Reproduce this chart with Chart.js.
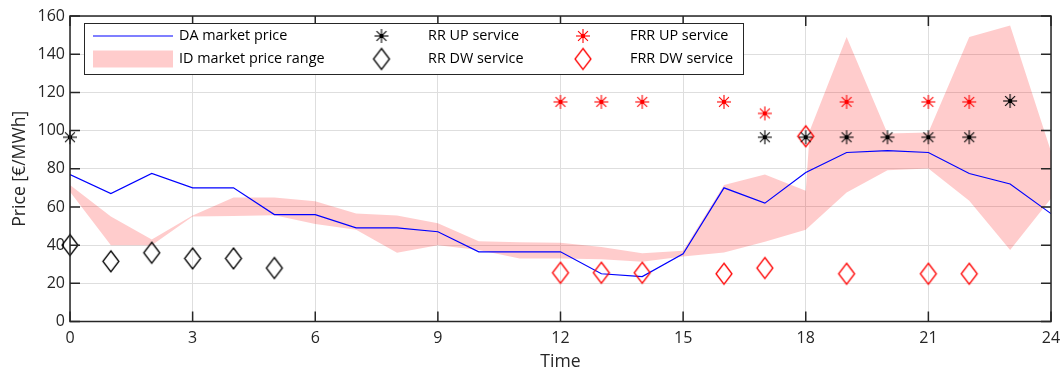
<!DOCTYPE html>
<html>
<head>
<meta charset="utf-8">
<script src="https://cdn.jsdelivr.net/npm/chart.js@4.4.1/dist/chart.umd.min.js"></script>
<style>
  html, body { margin: 0; padding: 0; background: #fff; }
  canvas { display: block; }
</style>
</head>
<body>
<canvas id="c" width="1062" height="371"></canvas>
<script>
// ---------------- DATA ----------------
const hours = [0,1,2,3,4,5,6,7,8,9,10,11,12,13,14,15,16,17,18,19,20,21,22,23,24];
const daPrice = [77,67,77.5,70,70,56,56,49,49,47,36.5,36.5,36.5,25,23.5,35.5,70,62,78,88.5,89.5,88.5,77.5,72,56.5];

const idTime  = [0,1,2,3,4,5,6,7,8,9,10,11,12,13,14,15,16,17,18,18.1,19,20,21,22,23,24];
const idUpper = [71.5,55,43,55.5,65,65,63,56.5,55.5,51.5,42,41.5,41.2,39,35.7,37,71.5,77,68.5,100,149,98.5,99,149,155,89];
const idLower = [68,40,40,55,55.2,55.7,51,48,36,40,37.5,33,33,32.6,31.3,34,36.2,41.8,48,50,67.5,79.2,80.1,63.2,37.4,64.4];

const rrUpTime  = [0,17,18,19,20,21,22,23];
const rrUpVal   = [96.5,96.5,96.5,96.5,96.5,96.5,96.5,115.5];
const rrDwTime  = [0,1,2,3,4,5];
const rrDwVal   = [40,31.5,36,33,33,28];
const frrUpTime = [12,13,14,16,17,19,21,22];
const frrUpVal  = [115,115,115,115,109,115,115,115];
const frrDwTime = [12,13,14,16,17,18,19,21,22];
const frrDwVal  = [25.5,25.5,25.5,25,28,97,25,25,25];

const xTicks = [0,3,6,9,12,15,18,21,24];
const yTicks = [0,20,40,60,80,100,120,140,160];
const seriesNames = ['DA market price','ID market price range','RR UP service','RR DW service','FRR UP service','FRR DW service'];
const xTitle = 'Time';
const yTitle = 'Price [€/MWh]';

// ---------------- STYLES ----------------
const FONT = "'Open Sans', 'DejaVu Sans', sans-serif";
const AX = '#262626';
const GRID = '#dedede';
const BLUE = '#0000ff';
const RED = '#ff0000';
const BAND = 'rgba(255,0,0,0.2)';

function pts(xs, ys) { return xs.map((x, i) => ({x: x, y: ys[i]})); }

function makeAsterisk(color) {
  const r = 7, s = 2 * r + 2;
  const c = document.createElement('canvas');
  c.width = s; c.height = s;
  const g = c.getContext('2d');
  g.strokeStyle = color; g.lineWidth = 1.1;
  const m = s / 2;
  for (const a of [0, Math.PI/4, Math.PI/2, 3*Math.PI/4]) {
    const dx = Math.cos(a) * r, dy = Math.sin(a) * r;
    g.beginPath(); g.moveTo(m - dx, m - dy); g.lineTo(m + dx, m + dy); g.stroke();
  }
  g.fillStyle = color;
  g.fillRect(m - 2, m - 2, 4, 4);
  return c;
}
function makeDiamond(color) {
  const w = 16, h = 21;
  const c = document.createElement('canvas');
  c.width = w + 4; c.height = h + 4;
  const g = c.getContext('2d');
  g.strokeStyle = color; g.lineWidth = 1.3;
  const cx = c.width / 2, cy = c.height / 2;
  g.beginPath();
  g.moveTo(cx, cy - h/2); g.lineTo(cx + w/2, cy); g.lineTo(cx, cy + h/2); g.lineTo(cx - w/2, cy); g.closePath();
  g.stroke();
  return c;
}
const astBlack = makeAsterisk('#000000');
const astRed = makeAsterisk(RED);
const diaBlack = makeDiamond('#000000');
const diaRed = makeDiamond(RED);

// ---------------- PLUGIN: frame, inward ticks, legend ----------------
const framePlugin = {
  id: 'framePlugin',
  afterDraw(chart) {
    const ctx = chart.ctx, a = chart.chartArea;
    const xs = chart.scales.x, ys = chart.scales.y;
    ctx.save();
    ctx.strokeStyle = AX; ctx.lineWidth = 1.5;
    ctx.strokeRect(a.left, a.top, a.right - a.left, a.bottom - a.top);
    const TL = 10;
    ctx.lineWidth = 1.5;
    ctx.beginPath();
    xTicks.forEach(v => {
      const px = xs.getPixelForValue(v);
      ctx.moveTo(px, a.bottom); ctx.lineTo(px, a.bottom - TL);
      ctx.moveTo(px, a.top); ctx.lineTo(px, a.top + TL);
    });
    yTicks.forEach(v => {
      const py = ys.getPixelForValue(v);
      ctx.moveTo(a.left, py); ctx.lineTo(a.left + TL, py);
      ctx.moveTo(a.right, py); ctx.lineTo(a.right - TL, py);
    });
    ctx.stroke();

    // legend
    const L = {x0: 84, y0: 23, x1: 743, y1: 74};
    ctx.fillStyle = '#ffffff';
    ctx.fillRect(L.x0, L.y0, L.x1 - L.x0, L.y1 - L.y0);
    ctx.strokeStyle = AX; ctx.lineWidth = 1;
    ctx.strokeRect(L.x0 + 0.5, L.y0 + 0.5, L.x1 - L.x0, L.y1 - L.y0);
    const r1 = 36, r2 = 59;
    ctx.strokeStyle = BLUE; ctx.lineWidth = 1.2;
    ctx.beginPath(); ctx.moveTo(93, r1); ctx.lineTo(173, r1); ctx.stroke();
    ctx.fillStyle = BAND;
    ctx.fillRect(93, r2 - 8.5, 80, 17);
    const drawImg = (img, x, y) => ctx.drawImage(img, x - img.width/2, y - img.height/2);
    drawImg(astBlack, 381.5, r1);
    drawImg(diaBlack, 381.5, r2);
    drawImg(astRed, 583, r1);
    drawImg(diaRed, 583, r2);
    ctx.fillStyle = '#000000';
    ctx.font = '14.4px ' + FONT;
    ctx.textBaseline = 'middle'; ctx.textAlign = 'left';
    ctx.fillText(seriesNames[0], 179, r1);
    ctx.fillText(seriesNames[1], 179, r2);
    ctx.fillText(seriesNames[2], 428, r1);
    ctx.fillText(seriesNames[3], 428, r2);
    ctx.fillText(seriesNames[4], 630, r1);
    ctx.fillText(seriesNames[5], 630, r2);
    ctx.restore();
  }
};

// ---------------- CHART ----------------
new Chart(document.getElementById('c'), {
  type: 'line',
  data: {
    datasets: [
      { label: seriesNames[2], data: pts(rrUpTime, rrUpVal), showLine: false, pointStyle: astBlack, pointRadius: 7, clip: false, order: 0 },
      { label: seriesNames[3], data: pts(rrDwTime, rrDwVal), showLine: false, pointStyle: diaBlack, pointRadius: 10, clip: false, order: 0 },
      { label: seriesNames[4], data: pts(frrUpTime, frrUpVal), showLine: false, pointStyle: astRed, pointRadius: 7, clip: false, order: 0 },
      { label: seriesNames[5], data: pts(frrDwTime, frrDwVal), showLine: false, pointStyle: diaRed, pointRadius: 10, clip: false, order: 0 },
      { label: seriesNames[0], data: pts(hours, daPrice), borderColor: BLUE, borderWidth: 1.2, pointRadius: 0, fill: false, tension: 0, order: 1 },
      { label: seriesNames[1] + ' (upper)', data: pts(idTime, idUpper), borderWidth: 0, borderColor: 'rgba(0,0,0,0)', backgroundColor: BAND, pointRadius: 0, fill: '+1', tension: 0, order: 2 },
      { label: seriesNames[1] + ' (lower)', data: pts(idTime, idLower), borderWidth: 0, borderColor: 'rgba(0,0,0,0)', pointRadius: 0, fill: false, tension: 0, order: 3 }
    ]
  },
  options: {
    responsive: false,
    animation: false,
    events: [],
    layout: { padding: { top: 16, right: 10, left: 0, bottom: 0 } },
    plugins: { legend: { display: false }, tooltip: { enabled: false }, title: { display: false } },
    scales: {
      x: {
        type: 'linear', min: 0, max: 24,
        afterBuildTicks: s => { s.ticks = xTicks.map(v => ({value: v})); },
        afterFit: s => { s.height = 49.5; s.paddingLeft = 0; s.paddingRight = 0; },
        grid: { color: GRID, lineWidth: 1, drawTicks: false },
        border: { display: false },
        ticks: { color: AX, font: { family: FONT, size: 16 }, padding: 7, maxRotation: 0, autoSkip: false },
        title: { display: true, text: xTitle, color: AX, font: { family: FONT, size: 17.6, lineHeight: 1.0 }, padding: { top: 0, bottom: 0 } }
      },
      y: {
        type: 'linear', min: 0, max: 160,
        afterBuildTicks: s => { s.ticks = yTicks.map(v => ({value: v})); },
        afterFit: s => { s.width = 70; s.paddingTop = 0; s.paddingBottom = 0; },
        grid: { color: GRID, lineWidth: 1, drawTicks: false },
        border: { display: false },
        ticks: { color: AX, font: { family: FONT, size: 16 }, padding: 5 },
        title: { display: true, text: yTitle, color: AX, font: { family: FONT, size: 17.6 }, padding: { top: 9, bottom: 0 } }
      }
    }
  },
  plugins: [framePlugin]
});
</script>
</body>
</html>
